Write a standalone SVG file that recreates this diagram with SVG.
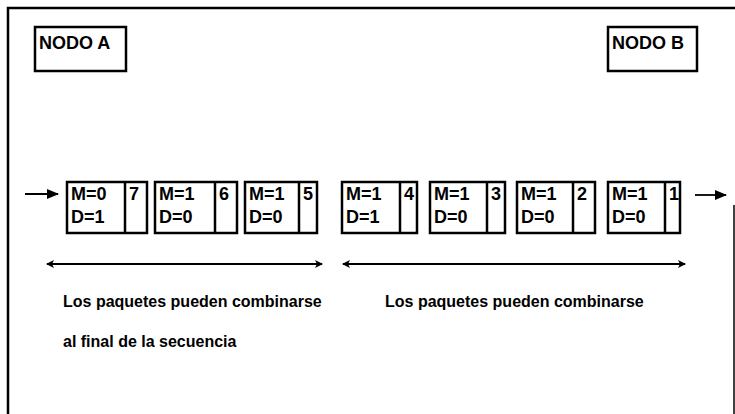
<svg xmlns="http://www.w3.org/2000/svg" width="735" height="414" viewBox="0 0 735 414">
<style>
.box{fill:#fff;stroke:#000;stroke-width:2.5}
.ln{stroke:#000;stroke-width:2.5;fill:none}
.t{font-family:"Liberation Sans",Arial,sans-serif;font-weight:bold;fill:#000}
.n{font-size:18px}
.p{font-size:18px}
.c{font-size:16px}
.arr{stroke:#000;stroke-width:1.8;fill:none}
</style>
<defs>
<marker id="ah" viewBox="0 0 12 12" refX="11" refY="6" markerWidth="12" markerHeight="12" markerUnits="userSpaceOnUse" orient="auto-start-reverse">
<path d="M0,1 L12,6 L0,11 Z" fill="#000"/>
</marker>
<marker id="dh" viewBox="0 0 8 8" refX="7" refY="4" markerWidth="8" markerHeight="8" markerUnits="userSpaceOnUse" orient="auto-start-reverse">
<path d="M0,0 L8,4 L0,8 L2,4 Z" fill="#000"/>
</marker>
</defs>
<g id="frame">
<path class="ln" d="M8,414 L8,8 L735,8"/>
<path d="M734,205 L734,414" stroke="#000" stroke-width="1.5" fill="none"/>
</g>
<g id="nodoA">
<rect class="box" x="35" y="27" width="91" height="44"/>
<text class="t n" x="39" y="49">NODO A</text>
</g>
<g id="nodoB">
<rect class="box" x="608" y="27" width="89" height="44"/>
<text class="t n" x="612" y="49">NODO B</text>
</g>
<g id="pkt7">
<rect class="box" x="67" y="182" width="80" height="51"/><line class="ln" x1="125" y1="182" x2="125" y2="233"/>
<text class="t p" x="71" y="200">M=0</text><text class="t p" x="71" y="223">D=1</text><text class="t p" x="129" y="200">7</text>
</g>
<g id="pkt6">
<rect class="box" x="155" y="182" width="82" height="51"/><line class="ln" x1="215" y1="182" x2="215" y2="233"/>
<text class="t p" x="159" y="200">M=1</text><text class="t p" x="159" y="223">D=0</text><text class="t p" x="219" y="200">6</text>
</g>
<g id="pkt5">
<rect class="box" x="245" y="182" width="72" height="51"/><line class="ln" x1="299" y1="182" x2="299" y2="233"/>
<text class="t p" x="249" y="200">M=1</text><text class="t p" x="249" y="223">D=0</text><text class="t p" x="303" y="200">5</text>
</g>
<g id="pkt4">
<rect class="box" x="342" y="182" width="75" height="51"/><line class="ln" x1="400" y1="182" x2="400" y2="233"/>
<text class="t p" x="346" y="200">M=1</text><text class="t p" x="346" y="223">D=1</text><text class="t p" x="404" y="200">4</text>
</g>
<g id="pkt3">
<rect class="box" x="430" y="182" width="75" height="51"/><line class="ln" x1="487" y1="182" x2="487" y2="233"/>
<text class="t p" x="434" y="200">M=1</text><text class="t p" x="434" y="223">D=0</text><text class="t p" x="491" y="200">3</text>
</g>
<g id="pkt2">
<rect class="box" x="517" y="182" width="78" height="51"/><line class="ln" x1="573" y1="182" x2="573" y2="233"/>
<text class="t p" x="521" y="200">M=1</text><text class="t p" x="521" y="223">D=0</text><text class="t p" x="577" y="200">2</text>
</g>
<g id="pkt1">
<rect class="box" x="608" y="182" width="72" height="51"/><line class="ln" x1="665" y1="182" x2="665" y2="233"/>
<text class="t p" x="612" y="200">M=1</text><text class="t p" x="612" y="223">D=0</text><text class="t p" x="669" y="200">1</text>
</g>
<g id="connectors">
<line class="arr" x1="25" y1="194" x2="58" y2="194" stroke-width="2.5" marker-end="url(#ah)"/>
<line class="arr" x1="695" y1="195" x2="726" y2="195" stroke-width="2.5" marker-end="url(#ah)"/>
<line class="arr" x1="47" y1="264" x2="322" y2="264" marker-start="url(#dh)" marker-end="url(#dh)"/>
<line class="arr" x1="343" y1="264" x2="685" y2="264" marker-start="url(#dh)" marker-end="url(#dh)"/>
</g>
<g id="labels">
<text class="t c" x="63" y="307">Los paquetes pueden combinarse</text>
<text class="t c" x="385" y="307">Los paquetes pueden combinarse</text>
<text class="t c" x="63" y="347">al final de la secuencia</text>
</g>
</svg>
